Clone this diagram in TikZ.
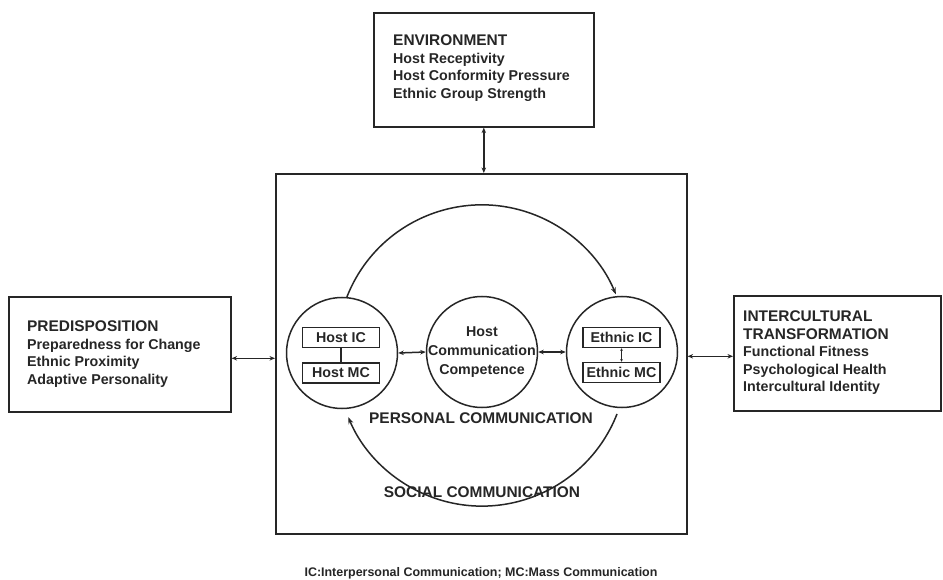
\documentclass[tikz,border=0pt]{standalone}
\usepackage{fontspec}
\setmainfont{Liberation Sans}
\usetikzlibrary{arrows.meta,calc}
\definecolor{ink}{RGB}{38,38,38}
\newcommand\myitemfont{\bfseries\fontsize{14.3}{17.5}\selectfont}
\newcommand\myheadfont{\fontsize{15.5}{17.5}\selectfont}
\begin{document}
\begin{tikzpicture}[x=1bp,y=-1bp,
  every node/.style={text=ink},
  ln/.style={draw=ink, line width=1.5bp},
  bigbox/.style={draw=ink, line width=1.6bp, rectangle, inner sep=0pt, anchor=north west},
  smallbox/.style={draw=ink, line width=1.5bp, rectangle, inner sep=0pt, minimum width=77bp, minimum height=20bp, font=\myitemfont},
  circ/.style={draw=ink, line width=1.5bp, circle, inner sep=0pt, minimum size=111bp},
  txt/.style={inner sep=0pt, anchor=north west, align=left, font=\myitemfont},
  dbl/.style={ln, {Stealth[length=5.5bp,width=4.5bp]}-{Stealth[length=5.5bp,width=4.5bp]}},
  one/.style={ln, -{Stealth[length=7bp,width=5bp]}},
  thin/.style={draw=ink, line width=1.1bp},
  tiny/.style={thin, {Stealth[length=2.5bp,width=2.5bp]}-{Stealth[length=2.5bp,width=2.5bp]}},
  lab/.style={inner sep=0pt, font=\bfseries\fontsize{15.5}{18}\selectfont},
]
\fill[white] (0,0) rectangle (943,580);
\useasboundingbox (0,0) rectangle (943,580);

% boxes
\node[bigbox, minimum width=220bp, minimum height=114bp] (env) at (373,12) {};
\node[bigbox, minimum width=222bp, minimum height=115bp] (pre) at (8,296) {};
\node[bigbox, minimum width=207bp, minimum height=115bp] (ict) at (733,295) {};
\node[bigbox, minimum width=411bp, minimum height=360bp] (main) at (275,173) {};

% box texts
\node[txt] (envt) at (393,35) {{\myheadfont ENVIRONMENT}\\Host Receptivity\\Host Conformity Pressure\\Ethnic Group Strength};
\node[txt] (pret) at (27,321) {{\myheadfont PREDISPOSITION}\\Preparedness for Change\\Ethnic Proximity\\Adaptive Personality};
\node[txt] (ictt) at (743,311) {{\myheadfont INTERCULTURAL}\\{\myheadfont TRANSFORMATION}\\Functional Fitness\\Psychological Health\\Intercultural Identity};

% circles
\node[circ] (lc) at (342,353) {};
\node[circ] (mc) at (482,352) {};
\node[circ] (rc) at (622,352) {};
\node[inner sep=0pt, align=center, font=\bfseries\fontsize{14.3}{19}\selectfont] (mct) at (482,352) {Host\\Communication\\Competence};

\node[smallbox] (hic) at (341,337.5) {Host IC};
\node[smallbox] (hmc) at (341,373) {Host MC};
\node[smallbox] (eic) at (621.5,337.5) {Ethnic IC};
\node[smallbox] (emc) at (621.5,372.5) {Ethnic MC};

% labels
\node[lab] (pc) at (481,418) {PERSONAL COMMUNICATION};
\node[lab] (sc) at (482,492) {SOCIAL COMMUNICATION};
\node[inner sep=0pt, font=\bfseries\fontsize{12.5}{14}\selectfont] (foot) at (481,573) {IC:Interpersonal Communication; MC:Mass Communication};

% connectors
\draw[dbl] (env.south) -- (env.south |- main.north);
\draw[dbl] ([yshift=-4bp]pre.east) -- ([yshift=-4bp]pre.east -| main.west);
\draw[dbl] ([yshift=-3bp]ict.west) -- ([yshift=-3bp]ict.west -| main.east);
\draw[dbl] (lc.east) -- (mc.west);
\draw[dbl] (mc.east) -- (rc.west);
\draw[thin] (hic.south) -- (hmc.north);
\draw[tiny] (eic.south) -- (emc.north);

\draw[one] (lc.85) arc[start angle=158.6, end angle=22.5, radius=145bp];
\coordinate (bs) at (617,414);
\draw[one] (bs) arc[start angle=-21.4, end angle=-157.3, radius=145bp];
\end{tikzpicture}
\end{document}
